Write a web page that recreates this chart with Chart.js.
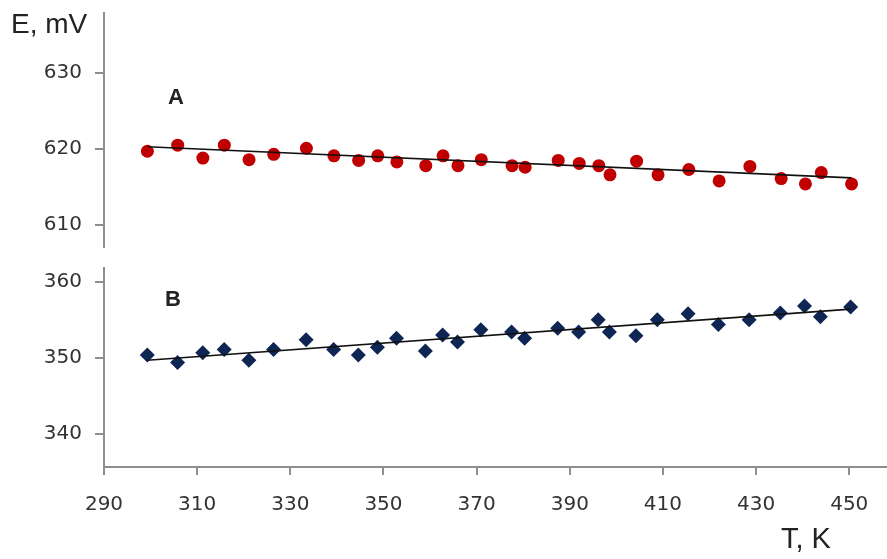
<!DOCTYPE html>
<html>
<head>
<meta charset="utf-8">
<script src="https://cdn.jsdelivr.net/npm/chart.js@4/dist/chart.umd.min.js"></script>
<style>
  body { margin: 0; background: #fff; width: 887px; height: 559px; position: relative; overflow: hidden; }
  canvas { position: absolute; left: 0; }
  .lbl { position: absolute; font-family: "Liberation Sans", Arial, sans-serif; color: #222; white-space: nowrap; }
</style>
</head>
<body>
<canvas id="chartA" width="894" height="284" style="top:-12px"></canvas>
<canvas id="chartB" width="894" height="316" style="top:243px"></canvas>
<div class="lbl" style="left:11px;top:8px;font-size:28px;">E, mV</div>
<div class="lbl" style="left:781px;top:522px;font-size:29px;">T, K</div>
<div class="lbl" style="left:168px;top:84px;font-size:22px;font-weight:bold;">A</div>
<div class="lbl" style="left:165px;top:286px;font-size:22px;font-weight:bold;">B</div>
<script>
// temperatures, K
const temps = [299.3, 305.8, 311.2, 315.8, 321.1, 326.4, 333.4, 339.3, 344.6, 348.7,
  352.8, 359.0, 362.7, 365.9, 370.9, 377.5, 380.3, 387.4, 391.9, 396.1,
  398.5, 404.2, 408.8, 415.4, 421.9, 428.5, 435.2, 440.4, 443.8, 450.3];
// series A, mV
const eA = [619.7, 620.5, 618.8, 620.5, 618.6, 619.3, 620.1, 619.1, 618.5, 619.1,
  618.3, 617.8, 619.1, 617.8, 618.6, 617.8, 617.6, 618.5, 618.1, 617.8,
  616.6, 618.4, 616.6, 617.3, 615.8, 617.7, 616.1, 615.4, 616.9, 615.4];
// series B, mV
const eB = [350.4, 349.4, 350.7, 351.1, 349.7, 351.1, 352.4, 351.1, 350.4, 351.4,
  352.6, 350.9, 353.0, 352.1, 353.7, 353.4, 352.6, 353.9, 353.4, 355.0,
  353.4, 352.9, 355.0, 355.8, 354.4, 355.0, 355.9, 356.8, 355.4, 356.7];
// fitted lines (endpoints)
const trendT = [299.3, 450.3];
const trendA = [620.3, 616.2];
const trendB = [349.7, 356.4];

const xTicks = [290, 310, 330, 350, 370, 390, 410, 430, 450];
const yTicksA = [610, 620, 630];
const yTicksB = [340, 350, 360];

const axisGray = "#8e8e8e";
const tickFont = { family: "DejaVu Sans", size: 20 };

function pts(xs, ys) { return xs.map((x, i) => ({ x: x, y: ys[i] })); }

function yScale(min, max, ticks) {
  return {
    min: min, max: max,
    afterBuildTicks: s => { s.ticks = ticks.map(v => ({ value: v })); },
    afterFit: s => { s.width = 104; },
    border: { color: axisGray, width: 2 },
    grid: { drawOnChartArea: false, color: axisGray, lineWidth: 2, tickLength: 9 },
    ticks: { color: "#333", font: tickFont, padding: 13 }
  };
}

function makeChart(id, data, trend, style, yMin, yMax, yTicks, showX, pad) {
  const x = {
    type: "linear",
    display: showX,
    min: 290, max: 458,
    afterBuildTicks: s => { s.ticks = xTicks.map(v => ({ value: v })); },
    border: { color: axisGray, width: 2 },
    grid: { drawOnChartArea: false, color: axisGray, lineWidth: 2, tickLength: 8 },
    ticks: { color: "#333", font: tickFont, padding: 18, maxRotation: 0 }
  };
  if (showX) x.afterFit = s => { s.height = 92; };

  new Chart(document.getElementById(id), {
    type: "scatter",
    data: {
      datasets: [{
        data: pts(temps, data),
        pointStyle: style.shape,
        pointRadius: style.r,
        backgroundColor: style.color,
        borderColor: style.color,
        borderWidth: 0,
        order: 2
      }, {
        type: "line",
        data: pts(trendT, trend),
        borderColor: "#111",
        borderWidth: 1.6,
        pointRadius: 0,
        order: 1
      }]
    },
    options: {
      responsive: false,
      animation: false,
      layout: { padding: pad },
      plugins: { legend: { display: false }, tooltip: { enabled: false } },
      scales: { x: x, y: yScale(yMin, yMax, yTicks) }
    }
  });
}

makeChart("chartA", eA, trendA, { shape: "circle", r: 6.5, color: "#c00000" },
  607.1, 637.9, yTicksA, false, { top: 8, right: 0, left: 0, bottom: 8 });
makeChart("chartB", eB, trendB, { shape: "rectRot", r: 7.5, color: "#0f2654" },
  335.7, 361.8, yTicksB, true, { top: 12, right: 0, left: 0, bottom: 0 });
</script>
</body>
</html>
